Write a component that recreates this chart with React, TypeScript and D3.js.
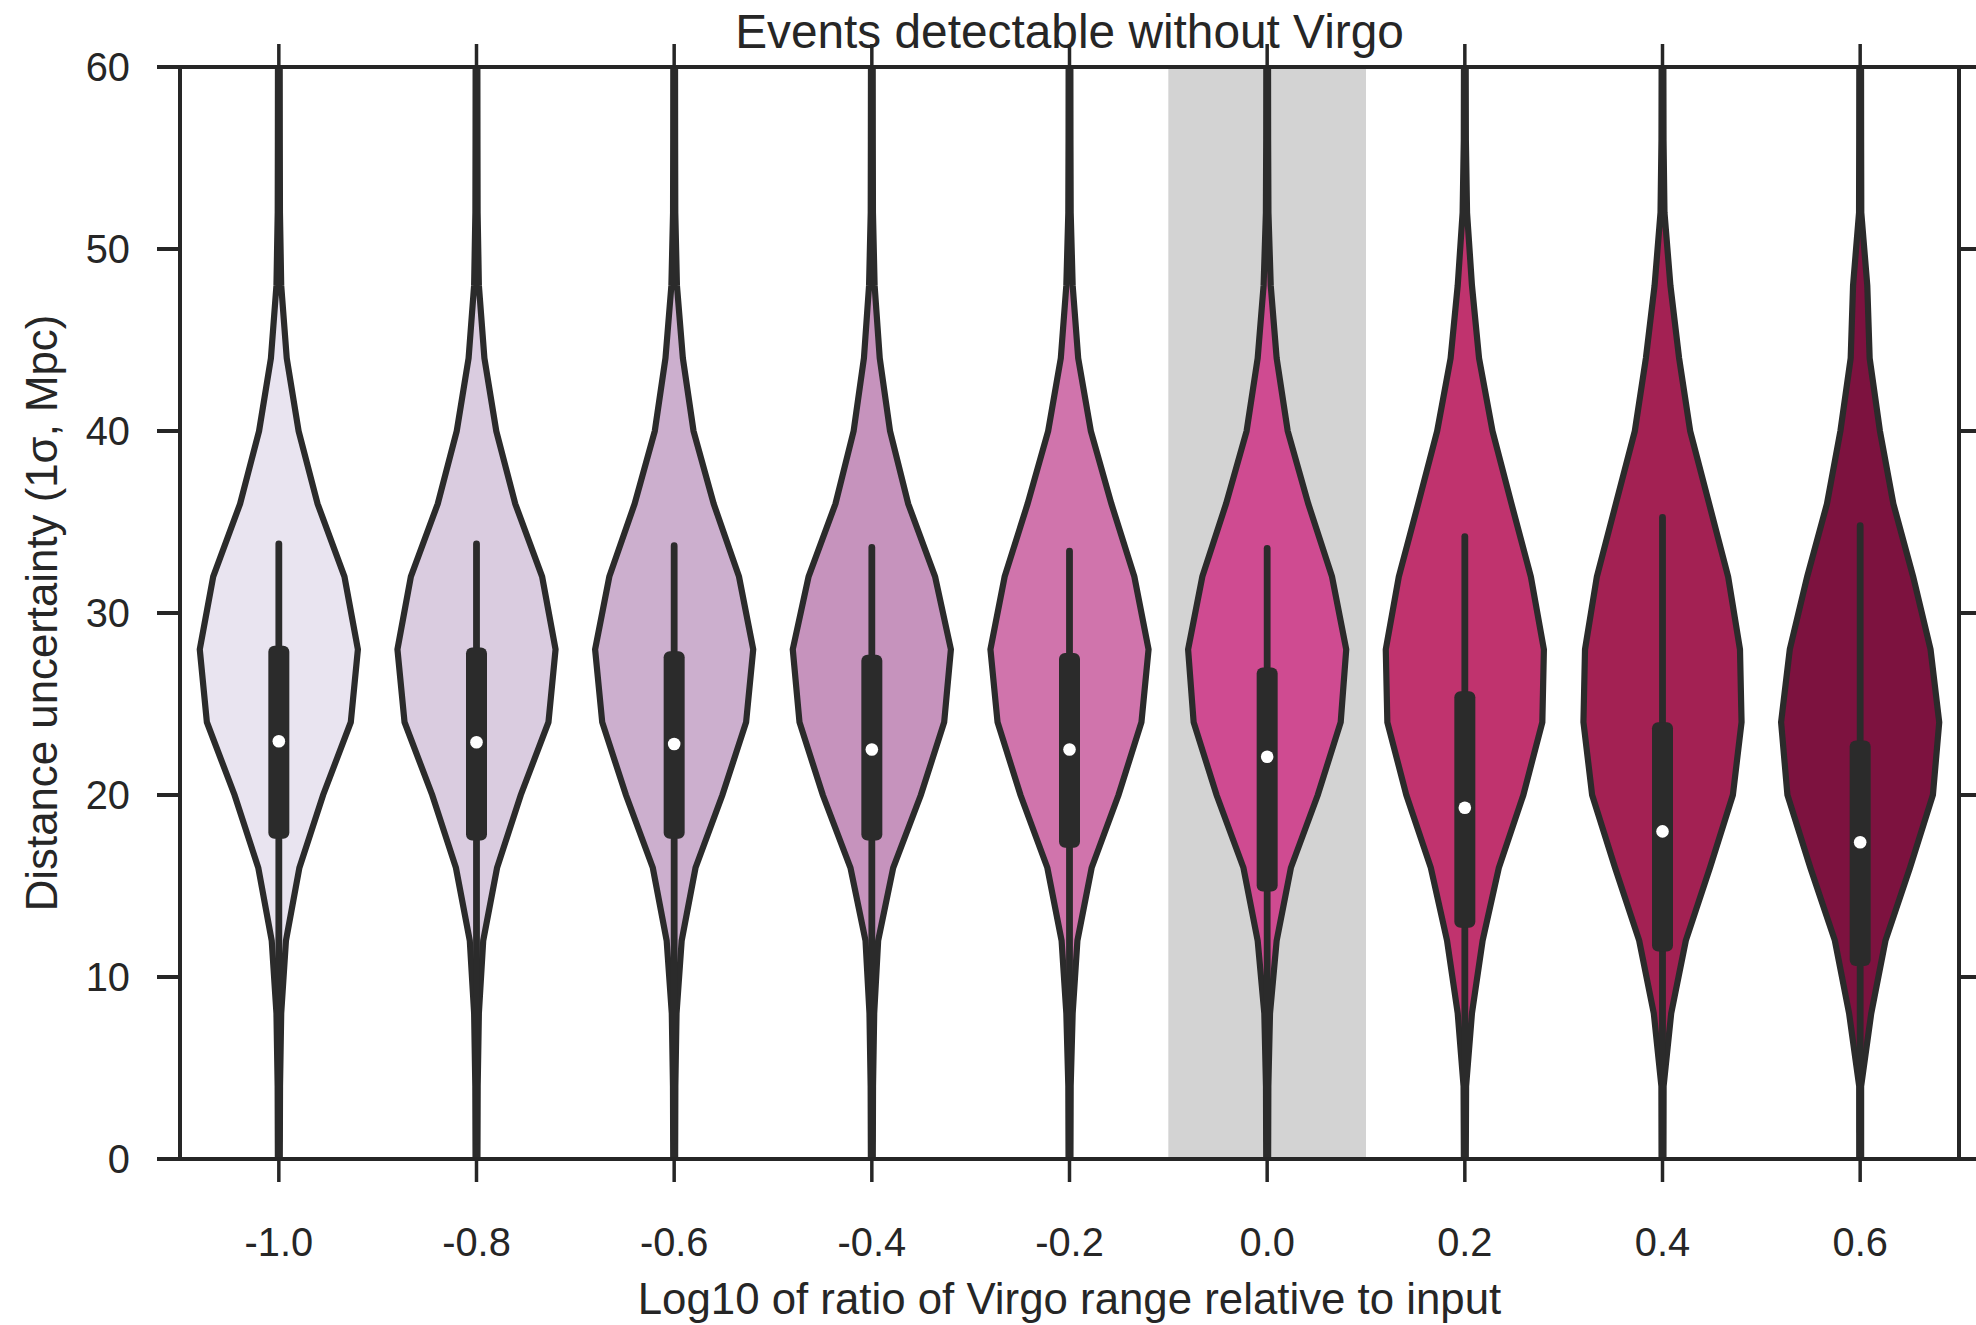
import React from "react";
import * as d3 from "d3";

// ---------- data ----------
const categories = ["-1.0", "-0.8", "-0.6", "-0.4", "-0.2", "0.0", "0.2", "0.4", "0.6"];
const highlightCategory = "0.0";
const yTicks = [0, 10, 20, 30, 40, 50, 60];
const kdeGrid = [0, 4, 8, 12, 16, 20, 24, 28, 32, 36, 40, 44, 48, 52, 56, 60];

// relative density (violin half-width / max) at each kdeGrid value
const densityM10 = [0.012, 0.015, 0.03, 0.09, 0.26, 0.56, 0.91, 1.0, 0.83, 0.49, 0.25, 0.10, 0.03, 0.014, 0.012, 0.011];
const densityM08 = [0.012, 0.015, 0.03, 0.085, 0.26, 0.56, 0.91, 1.0, 0.83, 0.49, 0.25, 0.10, 0.03, 0.014, 0.012, 0.011];
const densityM06 = [0.012, 0.015, 0.03, 0.095, 0.27, 0.61, 0.91, 1.0, 0.82, 0.50, 0.245, 0.11, 0.035, 0.014, 0.012, 0.011];
const densityM04 = [0.012, 0.015, 0.03, 0.08, 0.27, 0.62, 0.915, 1.0, 0.80, 0.46, 0.23, 0.10, 0.035, 0.014, 0.012, 0.011];
const densityM02 = [0.012, 0.015, 0.04, 0.10, 0.28, 0.62, 0.91, 1.0, 0.82, 0.53, 0.27, 0.11, 0.04, 0.015, 0.012, 0.011];
const densityP00 = [0.012, 0.015, 0.036, 0.12, 0.30, 0.64, 0.93, 1.0, 0.82, 0.52, 0.26, 0.12, 0.045, 0.016, 0.012, 0.011];
const densityP02 = [0.012, 0.016, 0.09, 0.225, 0.43, 0.74, 0.98, 1.0, 0.835, 0.59, 0.35, 0.18, 0.09, 0.028, 0.013, 0.011];
const densityP04 = [0.012, 0.014, 0.11, 0.295, 0.60, 0.89, 1.0, 0.98, 0.83, 0.59, 0.35, 0.21, 0.10, 0.025, 0.013, 0.011];
const densityP06 = [0.012, 0.012, 0.14, 0.32, 0.63, 0.92, 1.0, 0.89, 0.67, 0.42, 0.25, 0.12, 0.09, 0.014, 0.012, 0.011];
const densities = [densityM10, densityM08, densityM06, densityM04, densityM02, densityP00, densityP02, densityP04, densityP06];

const q1Values = [17.6, 17.5, 17.6, 17.5, 17.1, 14.7, 12.7, 11.4, 10.6];
const q3Values = [28.2, 28.1, 27.9, 27.7, 27.8, 27.0, 25.7, 24.0, 23.0];
const medianValues = [22.95, 22.9, 22.8, 22.5, 22.5, 22.1, 19.3, 18.0, 17.4];
const whiskerHigh = [33.8, 33.8, 33.7, 33.6, 33.4, 33.55, 34.2, 35.25, 34.8];
const whiskerLow = [1.0, 1.0, 1.0, 1.0, 1.0, 1.0, 1.5, 1.5, 1.5];

const palette = ["#e9e4f0", "#dacce0", "#ccafce", "#c693bd", "#d074ac", "#cf4b91", "#c0336e", "#a32153", "#7d123f"];

const titleText = "Events detectable without Virgo";
const xLabelText = "Log10 of ratio of Virgo range relative to input";
const yLabelText = "Distance uncertainty (1σ, Mpc)";

// ---------- layout ----------
const W = 1976;
const H = 1325;
const M = { left: 180, right: 1959, top: 67, bottom: 1159 };
const FONT = "'Liberation Sans', Arial, Helvetica, sans-serif";
const AX = "#262626";
const VL = "#2b2b2b";

export default function App() {
  const x = d3.scaleBand<string>().domain(categories).range([M.left, M.right]).paddingInner(0).paddingOuter(0);
  const y = d3.scaleLinear().domain([0, 60]).range([M.bottom, M.top]);
  const bw = x.bandwidth();
  const hw = d3.scaleLinear().domain([0, 1]).range([0, bw * 0.4]);
  const cx = (c: string) => (x(c) as number) + bw / 2;

  const area = (c: string) =>
    d3
      .area<[number, number]>()
      .y((d) => y(d[0]))
      .x0((d) => cx(c) - hw(d[1]))
      .x1((d) => cx(c) + hw(d[1]))
      .curve(d3.curveLinear);

  const tickLen = 23;

  return (
    <svg
      width={W}
      height={H}
      style={{ position: "fixed", left: 0, top: 0, background: "#fff" }}
      fontFamily={FONT}
    >
      <defs>
        <clipPath id="plotClip">
          <rect x={M.left} y={M.top} width={M.right - M.left} height={M.bottom - M.top} />
        </clipPath>
      </defs>
      <rect x={0} y={0} width={W} height={H} fill="#fff" />

      {/* highlight band */}
      <rect
        x={x(highlightCategory) as number}
        y={M.top}
        width={bw}
        height={M.bottom - M.top}
        fill="#d3d3d3"
      />

      {/* violins */}
      <g clipPath="url(#plotClip)">
        {categories.map((c, i) => {
          const pts: [number, number][] = kdeGrid.map((v, k) => [v, densities[i][k]]);
          return (
            <path
              key={"v" + c}
              d={area(c)(pts) as string}
              fill={palette[i]}
              stroke={VL}
              strokeWidth={6.2}
              strokeLinejoin="miter"
            />
          );
        })}
        {categories.map((c, i) => (
          <g key={"b" + c}>
            <line
              x1={cx(c)}
              x2={cx(c)}
              y1={y(whiskerLow[i])}
              y2={y(whiskerHigh[i])}
              stroke={VL}
              strokeWidth={6.8}
              strokeLinecap="round"
            />
            <rect
              x={cx(c) - 10.5}
              width={21}
              y={y(q3Values[i])}
              height={y(q1Values[i]) - y(q3Values[i])}
              rx={6}
              ry={6}
              fill={VL}
            />
            <circle cx={cx(c)} cy={y(medianValues[i])} r={6.3} fill="#ffffff" />
          </g>
        ))}
      </g>

      {/* spines */}
      <rect
        x={M.left}
        y={M.top}
        width={M.right - M.left}
        height={M.bottom - M.top}
        fill="none"
        stroke={AX}
        strokeWidth={4}
      />

      {/* y ticks (left & right) */}
      {yTicks.map((t) => (
        <g key={"yt" + t}>
          <line x1={M.left - tickLen} x2={M.left} y1={y(t)} y2={y(t)} stroke={AX} strokeWidth={4} />
          <line x1={M.right} x2={M.right + tickLen} y1={y(t)} y2={y(t)} stroke={AX} strokeWidth={4} />
          <text
            x={130}
            y={y(t)}
            dy="0.36em"
            textAnchor="end"
            fontSize={39.8}
            fill={AX}
          >
            {t}
          </text>
        </g>
      ))}

      {/* x ticks (top & bottom) */}
      {categories.map((c) => (
        <g key={"xt" + c}>
          <line x1={cx(c)} x2={cx(c)} y1={M.top - tickLen} y2={M.top} stroke={AX} strokeWidth={3.5} />
          <line x1={cx(c)} x2={cx(c)} y1={M.bottom} y2={M.bottom + tickLen} stroke={AX} strokeWidth={3.5} />
          <text x={cx(c)} y={1256} textAnchor="middle" fontSize={39.8} fill={AX}>
            {c}
          </text>
        </g>
      ))}

      {/* labels */}
      <text x={(M.left + M.right) / 2} y={1314} textAnchor="middle" fontSize={43.8} fill={AX}>
        {xLabelText}
      </text>
      <text
        transform={`translate(57, ${(M.top + M.bottom) / 2}) rotate(-90)`}
        textAnchor="middle"
        fontSize={43.8}
        fill={AX}
      >
        {yLabelText}
      </text>
      <text x={(M.left + M.right) / 2} y={47.5} textAnchor="middle" fontSize={47.8} fill={AX}>
        {titleText}
      </text>
    </svg>
  );
}
